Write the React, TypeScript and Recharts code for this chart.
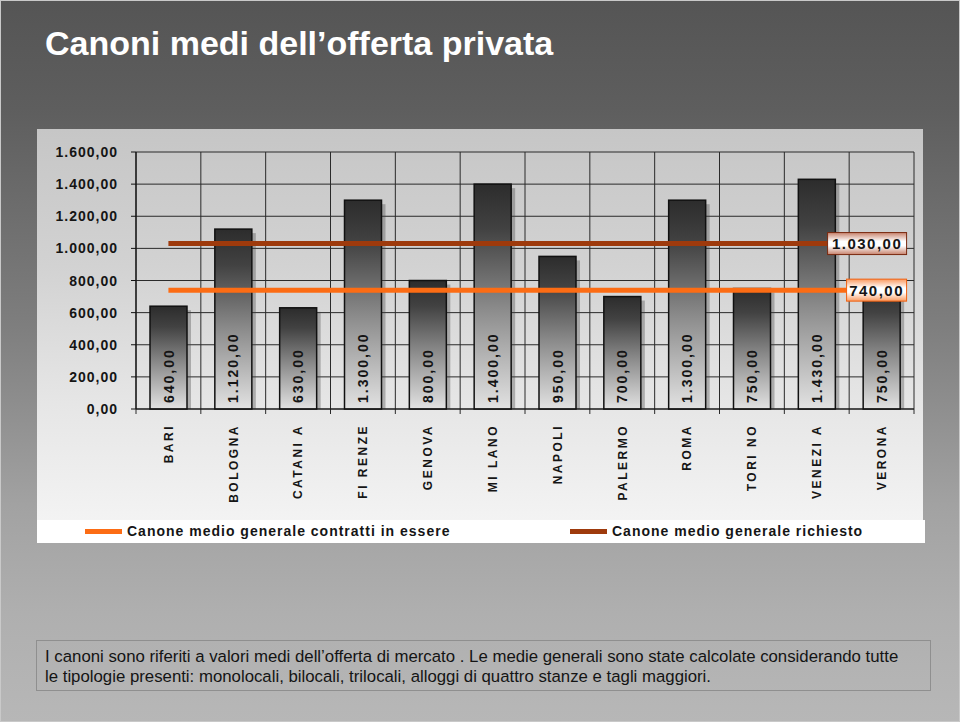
import React from 'react';
import {
  ComposedChart,
  Bar,
  Line,
  XAxis,
  YAxis,
  CartesianGrid,
  Legend,
  LabelList,
} from 'recharts';

// ---- data ----
const cities = ['BARI', 'BOLOGNA', 'CATANI A', 'FI RENZE', 'GENOVA', 'MI LANO', 'NAPOLI', 'PALERMO', 'ROMA', 'TORI NO', 'VENEZI A', 'VERONA'];
const canoni = [640, 1120, 630, 1300, 800, 1400, 950, 700, 1300, 750, 1430, 750];
const mediaContratti = 740;
const mediaRichiesto = 1030;
const yTicks = [0, 200, 400, 600, 800, 1000, 1200, 1400, 1600];
const seriesNames = {
  contratti: 'Canone medio generale contratti in essere',
  richiesto: 'Canone medio generale richiesto',
};
const title = 'Canoni medi dell\u2019offerta privata';
const noteLines = [
  'I canoni sono riferiti a valori medi dell\u2019offerta di mercato . Le medie generali sono state calcolate considerando tutte',
  'le tipologie presenti: monolocali, bilocali, trilocali, alloggi di quattro stanze e tagli maggiori.',
];

const rows = cities.map((city, i) => ({
  city,
  canone: canoni[i],
  contratti: mediaContratti,
  richiesto: mediaRichiesto,
}));

const COL_CONTRATTI = '#fc6c14';
const COL_RICHIESTO = '#9e3a0c';
const FONT = '"Liberation Sans", Arial, Helvetica, sans-serif';

const fmt = (v: number) => {
  const [i, d] = v.toFixed(2).split('.');
  return i.replace(/\B(?=(\d{3})+(?!\d))/g, '.') + ',' + d;
};

const BarShape = (p: any) => {
  const { x, y, width, height, index } = p;
  if (height <= 0) return null;
  const id = `bg${index}`;
  return (
    <g>
      <defs>
        <linearGradient id={id} x1="0" y1="0" x2="0" y2="1">
          <stop offset="0%" stopColor="#2c2c2c" />
          <stop offset="20%" stopColor="#424242" />
          <stop offset="55%" stopColor="#8a8a8a" />
          <stop offset="100%" stopColor="#e2e2e2" />
        </linearGradient>
      </defs>
      <rect x={x + width} y={y + 4} width={4} height={height - 4} fill="rgba(70,70,70,0.35)" />
      <rect x={x} y={y} width={width} height={height} fill={`url(#${id})`} stroke="#111" strokeWidth={1.5} />
    </g>
  );
};

const BarValueLabel = (p: any) => {
  const { x, y, width, height, value } = p;
  const cx = x + width / 2;
  const by = y + height - 6;
  return (
    <text
      x={cx}
      y={by}
      dy="0.36em"
      transform={`rotate(-90 ${cx} ${by})`}
      textAnchor="start"
      fontFamily={FONT}
      fontWeight="bold"
      fontSize={14}
      letterSpacing={2}
      fill="#151515"
    >
      {fmt(value)}
    </text>
  );
};

const makeEndLabel = (border: string, edge: string) => (p: any) => {
  const { x, y, index, value } = p;
  if (index !== rows.length - 1) return null;
  const txt = fmt(value);
  const w = txt.length * 9.5 + 3;
  const right = x + 25;
  const id = `lb${index}${border.slice(1)}`;
  return (
    <g>
      <defs>
        <linearGradient id={id} x1="0" y1="0" x2="0" y2="1">
          <stop offset="0%" stopColor={edge} />
          <stop offset="40%" stopColor="#ffffff" />
          <stop offset="60%" stopColor="#ffffff" />
          <stop offset="100%" stopColor={edge} />
        </linearGradient>
      </defs>
      <rect x={right - w} y={y - 11} width={w} height={22} fill={`url(#${id})`} stroke={border} strokeWidth={1} />
      <text
        x={right - w / 2}
        y={y}
        dy="0.36em"
        textAnchor="middle"
        fontFamily={FONT}
        fontWeight="bold"
        fontSize={15}
        letterSpacing={1.5}
        fill="#151515"
      >
        {txt}
      </text>
    </g>
  );
};

const XTick = (p: any) => {
  const { x, y, payload } = p;
  return (
    <text
      x={x}
      y={y}
      dy="0.36em"
      transform={`rotate(-90 ${x} ${y})`}
      textAnchor="end"
      fontFamily={FONT}
      fontWeight="bold"
      fontSize={12}
      letterSpacing={2.5}
      fill="#151515"
    >
      {payload.value}
    </text>
  );
};

const YTick = (p: any) => {
  const { x, y, payload } = p;
  return (
    <text
      x={x}
      y={y}
      dy="0.36em"
      textAnchor="end"
      fontFamily={FONT}
      fontWeight="bold"
      fontSize={14}
      letterSpacing={1}
      fill="#151515"
    >
      {fmt(payload.value)}
    </text>
  );
};

const renderLegend = (props: any) => {
  const payload = (props.payload || []).filter((e: any) => e.dataKey === 'contratti' || e.dataKey === 'richiesto');
  const order = ['contratti', 'richiesto'];
  payload.sort((a: any, b: any) => order.indexOf(a.dataKey) - order.indexOf(b.dataKey));
  const lefts = [48, 533];
  return (
    <div style={{ position: 'relative', width: 888, height: 23, background: '#ffffff' }}>
      {payload.map((e: any, i: number) => (
        <React.Fragment key={e.dataKey}>
          <div style={{ position: 'absolute', left: lefts[i], top: 9, width: 37, height: 5, background: e.color }} />
          <div
            style={{
              position: 'absolute',
              left: lefts[i] + 42,
              top: 0,
              height: 23,
              lineHeight: '23px',
              fontFamily: FONT,
              fontWeight: 'bold',
              fontSize: 14,
              letterSpacing: 1,
              color: '#151515',
              whiteSpace: 'nowrap',
            }}
          >
            {e.value}
          </div>
        </React.Fragment>
      ))}
    </div>
  );
};

export default function App() {
  return (
    <div
      style={{
        position: 'fixed',
        left: 0,
        top: 0,
        width: 960,
        height: 722,
        boxSizing: 'border-box',
        border: '1px solid #c9c9c9',
        overflow: 'hidden',
        background:
          'linear-gradient(to bottom, #555555 0%, #5e5e5e 15%, #7e7e7e 45%, #a2a2a2 70%, #afafaf 85%, #b7b7b7 100%)',
        fontFamily: FONT,
      }}
    >
      <div
        style={{
          position: 'absolute',
          left: 44,
          top: 25,
          fontSize: 34,
          lineHeight: '34px',
          fontWeight: 'bold',
          color: '#ffffff',
          whiteSpace: 'nowrap',
        }}
      >
        {title}
      </div>
      <div
        style={{
          position: 'absolute',
          left: 36,
          top: 128,
          width: 886,
          height: 392,
          background: 'linear-gradient(to bottom, #c6c6c6 0%, #d2d2d2 35%, #e6e6e6 70%, #f3f3f3 100%)',
        }}
      />
      <div style={{ position: 'absolute', left: -1, top: -1 }}>
        <ComposedChart
          width={960}
          height={722}
          data={rows}
          margin={{ top: 152, right: 46, bottom: 283, left: 0 }}
        >
          <CartesianGrid
            stroke="#2a2a2a"
            strokeWidth={1}
            verticalCoordinatesGenerator={({ offset }: any) =>
              cities.map((_, i) => offset.left + (i * offset.width) / cities.length).concat(offset.left + offset.width)
            }
            vertical={(lp: any) => (
              <line
                key={`v${lp.index}`}
                x1={lp.x1}
                x2={lp.x2}
                y1={lp.y1}
                y2={lp.y2 + 5}
                stroke="#2a2a2a"
                strokeWidth={1}
              />
            )}
          />
          <XAxis
            dataKey="city"
            height={30}
            tick={<XTick />}
            tickLine={false}
            tickSize={0}
            tickMargin={15}
            axisLine={{ stroke: '#111', strokeWidth: 1.2 }}
            interval={0}
          />
          <YAxis
            width={136}
            domain={[0, 1600]}
            ticks={yTicks}
            tick={<YTick />}
            tickSize={5}
            tickMargin={13}
            tickLine={{ stroke: '#111' }}
            axisLine={{ stroke: '#111', strokeWidth: 1.2 }}
            interval={0}
          />
          <Bar dataKey="canone" barSize={37} shape={<BarShape />} legendType="none" isAnimationActive={false}>
            <LabelList dataKey="canone" content={<BarValueLabel />} />
          </Bar>
          <Line
            dataKey="richiesto"
            name={seriesNames.richiesto}
            stroke={COL_RICHIESTO}
            strokeWidth={5}
            dot={false}
            activeDot={false}
            isAnimationActive={false}
          >
            <LabelList dataKey="richiesto" content={makeEndLabel('#7a2a10', '#c7826c')} />
          </Line>
          <Line
            dataKey="contratti"
            name={seriesNames.contratti}
            stroke={COL_CONTRATTI}
            strokeWidth={5}
            dot={false}
            activeDot={false}
            isAnimationActive={false}
          >
            <LabelList dataKey="contratti" content={makeEndLabel('#f06010', '#fa9a60')} />
          </Line>
          <Legend
            layout="horizontal"
            verticalAlign="middle"
            align="center"
            width={888}
            height={23}
            wrapperStyle={{ position: 'absolute', left: 37, top: 520, width: 888, height: 23 }}
            content={renderLegend}
          />
        </ComposedChart>
      </div>
      <div
        style={{
          position: 'absolute',
          left: 35,
          top: 639,
          width: 895,
          height: 51,
          boxSizing: 'border-box',
          border: '1px solid #8f8f8f',
          padding: '6px 0 0 8px',
          fontSize: 16.8,
          lineHeight: '20px',
          color: '#141414',
          whiteSpace: 'nowrap',
        }}
      >
        {noteLines[0]}
        <br />
        {noteLines[1]}
      </div>
    </div>
  );
}
